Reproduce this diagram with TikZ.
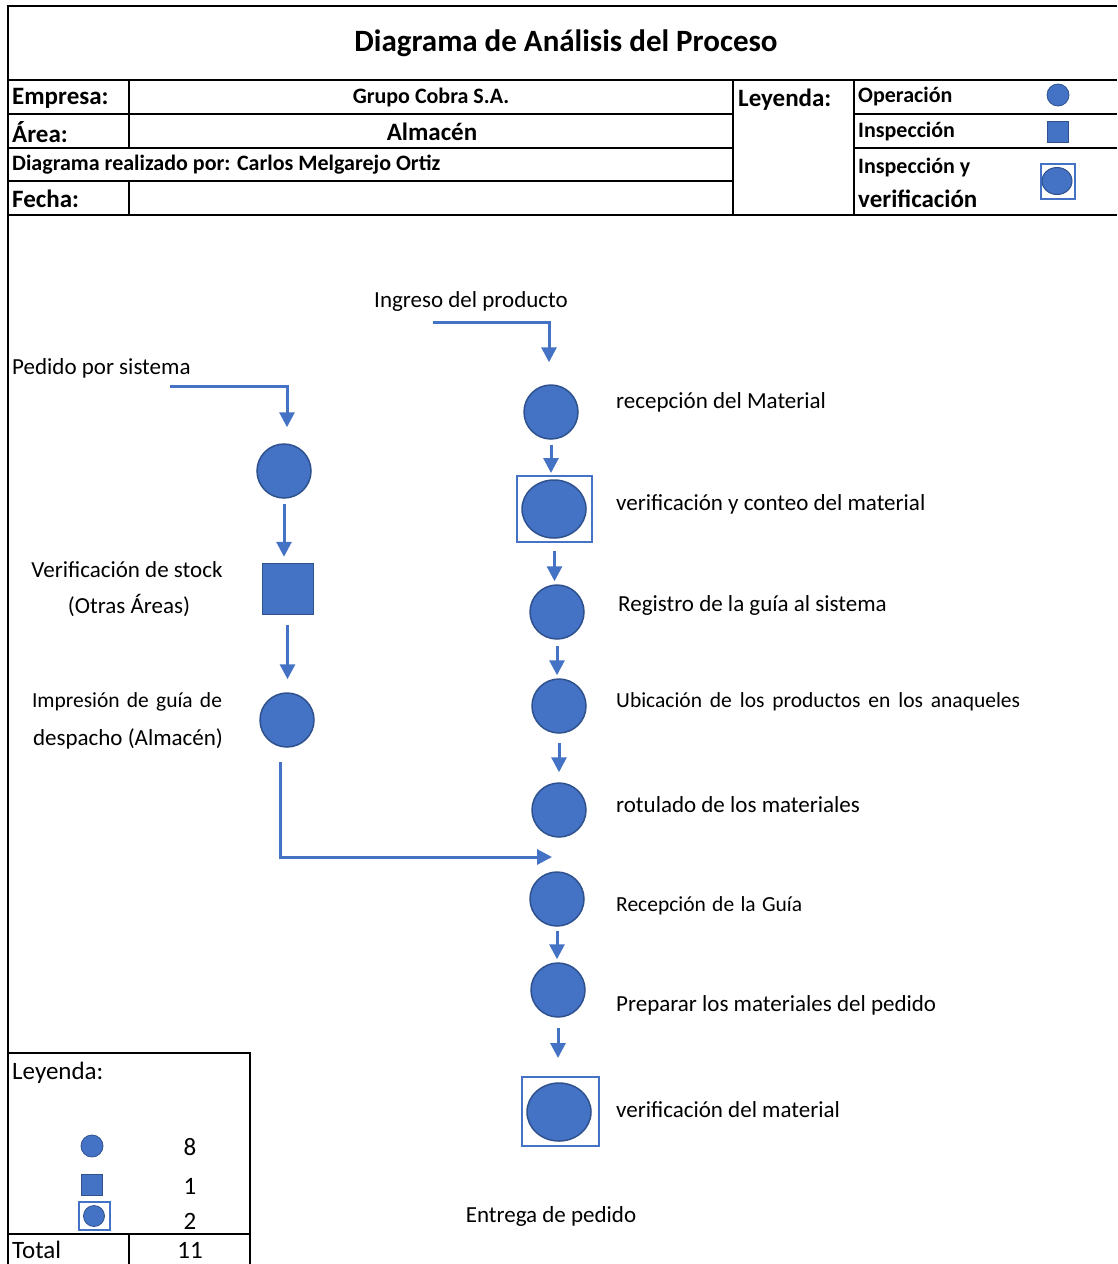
\documentclass[tikz,border=0pt]{standalone}
\usepackage{fontspec}
\setmainfont{Carlito}
\usetikzlibrary{arrows.meta,shapes.geometric,calc}
\definecolor{blueA}{HTML}{4472C4}
\definecolor{blueB}{HTML}{2F528F}
\tikzset{
  op/.style={circle,fill=blueA,draw=blueB,line width=1.5pt,minimum size=54pt,inner sep=0pt},
  opl/.style={ellipse,fill=blueA,draw=blueB,line width=1.5pt,minimum width=64pt,minimum height=58pt,inner sep=0pt},
  insp/.style={rectangle,fill=blueA,draw=blueB,line width=0.5pt,minimum size=51pt,inner sep=0pt},
  framebox/.style={rectangle,draw=blueA,line width=2pt,inner sep=0pt},
  arr/.style={draw=blueA,line width=3pt,-{Triangle[width=15pt,length=15pt]}},
  tline/.style={draw=black,line width=1.6pt},
  lbl/.style={anchor=west,inner sep=0pt,font=\fontsize{23}{27}\selectfont},
  clbl/.style={anchor=center,inner sep=0pt,font=\fontsize{23}{27}\selectfont},
  jlbl/.style={inner sep=0pt,font=\fontsize{21.5}{26}\selectfont},
  hb/.style={anchor=west,inner sep=0pt,font=\fontsize{22}{26}\selectfont\bfseries},
  hbl/.style={anchor=west,inner sep=0pt,font=\fontsize{25}{29}\selectfont\bfseries},
  leg/.style={inner sep=0pt,font=\fontsize{25}{29}\selectfont},
}
\begin{document}
\begin{tikzpicture}[x=1pt,y=-1pt]
\useasboundingbox (0,0) rectangle (1117,1264);
\fill[white] (0,0) rectangle (1117,1264);
% ---------- header table ----------
\draw[tline] (8,1264) -- (8,6) -- (1117,6);
\draw[tline] (8,80) -- (1117,80);
\draw[tline] (8,114) -- (733,114);
\draw[tline] (854,114) -- (1117,114);
\draw[tline] (8,148) -- (733,148);
\draw[tline] (854,148) -- (1117,148);
\draw[tline] (8,181) -- (733,181);
\draw[tline] (8,215) -- (1117,215);
\draw[tline] (129,80) -- (129,148);
\draw[tline] (129,181) -- (129,215);
\draw[tline] (733,80) -- (733,215);
\draw[tline] (854,80) -- (854,215);
\node[inner sep=0pt,font=\fontsize{31}{36}\selectfont\bfseries] (title) at (566,43) {Diagrama de Análisis del Proceso};
\node[hbl] (emp) at (12,98) {Empresa:};
\node[hb,anchor=center] (empv) at (431,98) {Grupo Cobra S.A.};
\node[hbl] (area) at (12,132) {Área:};
\node[hbl,anchor=center] (areav) at (432,132) {Almacén};
\node[hb] (autor) at (12,165) {Diagrama realizado por: Carlos Melgarejo Ortiz};
\node[hbl] (fecha) at (12,199) {Fecha:};
\node[hbl] (leyh) at (738,100) {Leyenda:};
\node[hb] (lop) at (858,97) {Operación};
\node[hb] (lin) at (858,132) {Inspección};
\node[hb] (liv1) at (858,168) {Inspección y};
\node[hbl] (liv2) at (858,199) {verificación};
\node[op,minimum size=22pt,line width=0.8pt] (sop) at (1058,95) {};
\node[insp,minimum size=21pt] (sin) at (1058,132) {};
\node[framebox,minimum width=34pt,minimum height=35pt] (siv) at (1058,181) {};
\node[opl,minimum width=30pt,minimum height=27pt,line width=1pt] (sive) at (1057,181) {};
% ---------- left column ----------
\node[lbl] (tped) at (12,368) {Pedido por sistema};
\coordinate (pstart) at (170,386);
\node[op] (l1) at (284,471) {};
\node[insp] (l2) at (287.5,588.5) {};
\node[op] (l3) at (287,720) {};
\node[clbl] (tver1) at (127,570) {Verificación de stock};
\node[clbl] (tver2) at (129,605) {(Otras Áreas)};
\node[jlbl] (timp1) at (127,702) {\makebox[190pt][s]{Impresión de guía de}};
\node[clbl] (timp2) at (128,739) {despacho (Almacén)};
\draw[arr] (pstart) -| ($(l1.north)+(3,-16)$);
\draw[arr,shorten <=5pt,shorten >=6pt] (l1.south) -- (l1.south |- l2.north);
\draw[arr,shorten <=11pt,shorten >=13pt] (l2.south) -- (l2.south |- l3.north);
\coordinate (ebreak) at (280,762);
\coordinate (join) at (552,857);
\draw[arr] (ebreak) |- (join);
% ---------- right column ----------
\node[clbl] (ting) at (471,301) {Ingreso del producto};
\coordinate (istart) at (433,322);
\node[op] (r1) at (551,412) {};
\node[framebox,minimum width=75pt,minimum height=66pt] (r2f) at (554.5,509) {};
\node[opl] (r2) at (554,509) {};
\node[op] (r3) at (557,612) {};
\node[op] (r4) at (559,706) {};
\node[op] (r5) at (559,810) {};
\node[op] (r6) at (557,899) {};
\node[op] (r7) at (558,990) {};
\node[framebox,minimum width=77pt,minimum height=69pt] (r8f) at (560.5,1111.5) {};
\node[opl] (r8) at (559,1112) {};
\node[clbl] (tent) at (551,1216) {Entrega de pedido};
\draw[arr] (istart) -| ($(r1.north)+(-2,-22)$);
\draw[arr,shorten <=5pt,shorten >=2pt] (r1.south) -- (r1.south |- r2f.north);
\draw[arr,shorten <=8pt,shorten >=3pt] (r2f.south) -- (r2f.south |- r3.north);
\draw[arr,shorten <=6pt,shorten >=3pt] (r3.south) -- (r3.south |- r4.north);
\draw[arr,shorten <=9pt,shorten >=10pt] (r4.south) -- (r4.south |- r5.north);
\draw[arr,shorten <=4pt,shorten >=3pt] (r6.south) -- (r6.south |- r7.north);
\draw[arr,shorten <=10pt,shorten >=18pt] (r7.south) -- (r7.south |- r8f.north);
\node[lbl] (t1) at (616,402) {recepción del Material};
\node[lbl] (t2) at (616,504) {verificación y conteo del material};
\node[lbl] (t3) at (618,605) {Registro de la guía al sistema};
\node[jlbl,anchor=west] (t4) at (616,702) {\makebox[404pt][s]{Ubicación de los productos en los anaqueles}};
\node[lbl] (t5) at (616,805) {rotulado de los materiales};
\node[jlbl,anchor=west] (t6) at (616,906) {\makebox[186pt][s]{Recepción de la Guía}};
\node[lbl] (t7) at (616,1005) {Preparar los materiales del pedido};
\node[lbl] (t8) at (616,1110) {verificación del material};
% ---------- bottom-left summary ----------
\draw[tline] (8,1053) -- (250,1053) -- (250,1264);
\draw[tline] (8,1234) -- (250,1234);
\draw[tline] (129,1234) -- (129,1264);
\node[leg,anchor=west] (bley) at (12,1073) {Leyenda:};
\node[op,minimum size=22pt,line width=0.8pt] (bop) at (92,1146) {};
\node[insp,minimum size=21pt] (bin) at (92,1184.5) {};
\node[framebox,minimum width=31pt,minimum height=28pt] (bivf) at (94.5,1216) {};
\node[op,minimum size=21pt,line width=0.8pt] (biv) at (94,1216) {};
\node[leg] (n8) at (190,1147) {8};
\node[leg] (n1) at (190,1186) {1};
\node[leg] (n2) at (190,1221) {2};
\node[leg,anchor=west] (ttot) at (12,1250) {Total};
\node[leg] (n11) at (190,1250) {11};
\end{tikzpicture}
\end{document}
